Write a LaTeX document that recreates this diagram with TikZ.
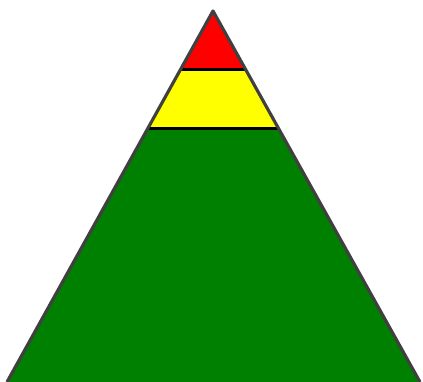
\documentclass[tikz,border=0pt]{standalone}
\usepackage{tikz}
\usetikzlibrary{calc}
\definecolor{levelgreen}{RGB}{0,128,0}
\definecolor{levelyellow}{RGB}{255,255,0}
\definecolor{levelred}{RGB}{255,0,0}

\begin{document}
\begin{tikzpicture}[x=0.02cm, y=0.02cm,
  outline/.style={draw=black!75, line width=1.8pt, line join=round},
  divider/.style={draw=black, line width=1.7pt}]
\useasboundingbox (0,0) rectangle (423,382);
\coordinate (apex) at (213,371);
\coordinate (baseL) at (7,0);
\coordinate (baseR) at (420,0);
\coordinate (redL) at ($(apex)!0.159!(baseL)$);
\coordinate (redR) at ($(apex)!0.159!(baseR)$);
\coordinate (yelL) at ($(apex)!0.318!(baseL)$);
\coordinate (yelR) at ($(apex)!0.318!(baseR)$);
\fill[levelgreen] (yelL) -- (yelR) -- (baseR) -- (baseL) -- cycle;
\fill[levelyellow] (redL) -- (redR) -- (yelR) -- (yelL) -- cycle;
\fill[levelred] (apex) -- (redR) -- (redL) -- cycle;
\draw[divider] (redL) -- (redR);
\draw[divider] (yelL) -- (yelR);
\draw[outline] (baseL) -- (apex) -- (baseR);
\end{tikzpicture}
\end{document}
